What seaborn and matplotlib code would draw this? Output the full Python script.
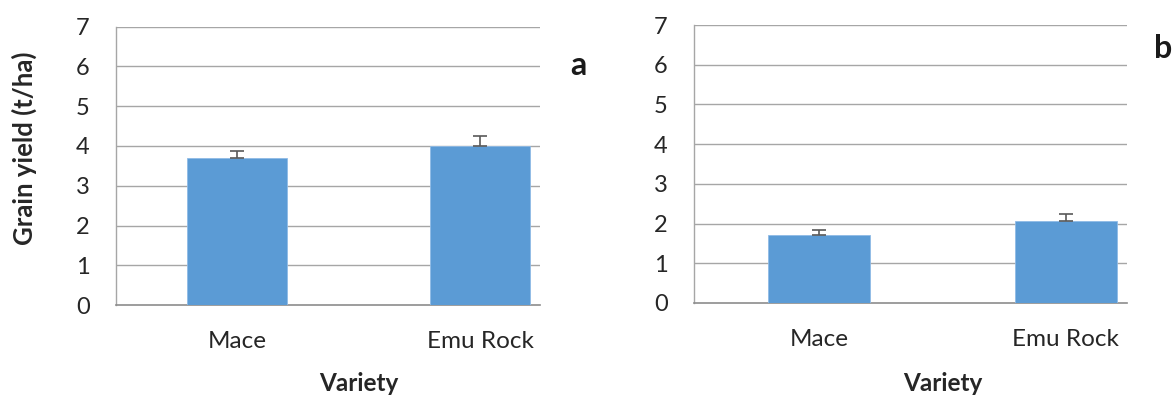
import matplotlib
matplotlib.use("Agg")
import matplotlib.pyplot as plt
import matplotlib.transforms as mtransforms
import seaborn as sns
import pandas as pd

# Grain yield by variety for two sites
varieties = ["Mace", "Emu Rock"]
yield_a = [3.69, 4.00]
err_a = [0.18, 0.24]
yield_b = [1.70, 2.07]
err_b = [0.15, 0.16]
panel_labels = ["a", "b"]
y_ticks = [0, 1, 2, 3, 4, 5, 6, 7]

sns.set_theme(style="white")
plt.rcParams["font.family"] = ["Lato", "DejaVu Sans"]

BAR_COLOR = "#5b9bd5"
GRID_COLOR = "#a6a6a6"
TEXT_COLOR = "#262626"

fig = plt.figure(figsize=(11.75, 3.97), dpi=100)
axes_rects = [
    [0.0987, 0.2317, 0.3609, 0.7010],
    [0.5906, 0.2368, 0.3685, 0.7002],
]
xlims = [(-0.496, 1.245), (-0.506, 1.247)]
label_pos = [(0.492, 0.836), (0.990, 0.879)]

for i, (vals, errs) in enumerate([(yield_a, err_a), (yield_b, err_b)]):
    ax = fig.add_axes(axes_rects[i])
    df = pd.DataFrame({"Variety": varieties, "Yield": vals})
    sns.barplot(data=df, x="Variety", y="Yield", color=BAR_COLOR,
                saturation=1, width=0.41, ax=ax, errorbar=None,
                edgecolor="#8fbbe6", linewidth=0.6, zorder=3)
    # one-sided (upper) error bars
    ax.errorbar(range(len(vals)), vals, yerr=[[0] * len(errs), errs],
                fmt="none", ecolor="#595959", elinewidth=1.2,
                capsize=5, capthick=1.2, zorder=4)

    ax.set_ylim(0, 7)
    ax.set_xlim(*xlims[i])
    ax.set_yticks(y_ticks)
    ax.set_yticklabels([str(t) for t in y_ticks])
    for t in y_ticks[1:]:
        ax.axhline(t, color=GRID_COLOR, linewidth=1.0, zorder=1)

    for side in ["top", "right"]:
        ax.spines[side].set_visible(False)
    ax.spines["left"].set_color(GRID_COLOR)
    ax.spines["bottom"].set_color("#8c8c8c")
    ax.spines["left"].set_linewidth(1.0)
    ax.spines["bottom"].set_linewidth(1.2)

    ax.tick_params(axis="y", length=0, pad=19, labelsize=17, labelcolor=TEXT_COLOR)
    ax.tick_params(axis="x", length=0, pad=19, labelsize=17.5, labelcolor=TEXT_COLOR)
    # category divider tick
    ax.set_xticks([0.5], minor=True)
    ax.tick_params(axis="x", which="minor", direction="in", length=8,
                   width=1, color="#8c8c8c")
    ax.set_xlabel("")
    ax.set_ylabel("")

    trans = mtransforms.blended_transform_factory(ax.transData, fig.transFigure)
    ax.text(0.5, 0.006, "Variety", transform=trans, ha="center", va="bottom",
            fontsize=17.5, fontweight="bold", color=TEXT_COLOR)

    fig.text(label_pos[i][0], label_pos[i][1], panel_labels[i], ha="center",
             va="center", fontsize=23, fontweight="bold", color="#1a1a1a")

fig.text(0.021, 0.627, "Grain yield (t/ha)", rotation=90, ha="center",
         va="center", fontsize=18.5, fontweight="bold", color=TEXT_COLOR)

fig.savefig("out.png", dpi=100, facecolor="white")
